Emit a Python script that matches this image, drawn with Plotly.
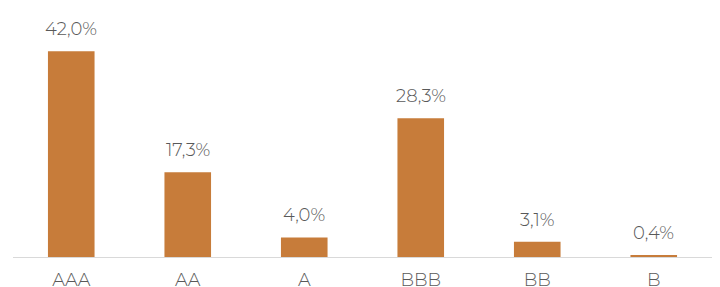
import plotly.graph_objects as go

categories = ["AAA", "AA", "A", "BBB", "BB", "B"]
values = [42.0, 17.3, 4.0, 28.3, 3.1, 0.4]
labels = [f"{v:.1f}".replace(".", ",") + "%" for v in values]

bar_color = "#C77C3A"
text_color = "#595959"
font_family = "Montserrat, Lato, sans-serif"

fig = go.Figure(go.Bar(x=categories, y=values, marker=dict(color=bar_color, line=dict(width=0)),
                       width=0.4, hoverinfo="skip"))

for c, v, t in zip(categories, values, labels):
    fig.add_annotation(x=c, y=v, text=t, showarrow=False, yanchor="bottom", yshift=9,
                       font=dict(size=18, color=text_color, family=font_family, weight=300))

fig.update_layout(
    width=720, height=287,
    margin=dict(l=5, r=16, t=4, b=38),
    paper_bgcolor="white", plot_bgcolor="white",
    showlegend=False,
    xaxis=dict(showline=True, linecolor="#D9D9D9", linewidth=1, ticks="",
               tickfont=dict(size=18, color=text_color, family=font_family, weight=300),
               showgrid=False, ticklabelstandoff=6),
    yaxis=dict(range=[0, 50], visible=False, showgrid=False, zeroline=False),
)

fig.write_html("out.html")
